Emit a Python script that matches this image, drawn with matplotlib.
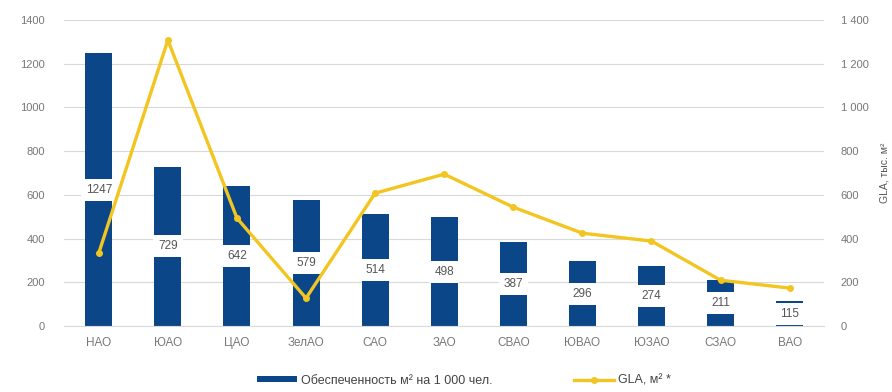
import matplotlib.pyplot as plt
import numpy as np

districts = ['НАО', 'ЮАО', 'ЦАО', 'ЗелАО', 'САО', 'ЗАО', 'СВАО', 'ЮВАО', 'ЮЗАО', 'СЗАО', 'ВАО']
supply = [1247, 729, 642, 579, 514, 498, 387, 296, 274, 211, 115]
gla = [334, 1308, 494, 128, 608, 695, 544, 425, 389, 210, 174]

left_ticks = [0, 200, 400, 600, 800, 1000, 1200, 1400]
right_tick_labels = ['0', '200', '400', '600', '800', '1 000', '1 200', '1 400']

BAR_COLOR = '#0b4788'
LINE_COLOR = '#f2c521'
TICK_COLOR = '#777777'

plt.rcParams['font.family'] = ['Liberation Sans', 'DejaVu Sans']

fig = plt.figure(figsize=(8.92, 3.92), dpi=100)
ax = fig.add_axes([0.072, 0.168, 0.852, 0.781])
x = np.arange(len(districts))

ax.set_axisbelow(True)
ax.grid(axis='y', color='#d9d9d9', linewidth=0.8)
bars = ax.bar(x, supply, width=0.39, color=BAR_COLOR, label='Обеспеченность м² на 1 000 чел.', zorder=2)

# подписи значений в середине столбцов
for xi, v in zip(x, supply):
    ax.text(xi, v / 2, str(v), ha='center', va='center', fontsize=8.5, color='#555555', zorder=5,
            bbox=dict(boxstyle='square,pad=0.42', facecolor='white', edgecolor='none'))

ax.set_xlim(-0.5, len(districts) - 0.5)
ax.set_ylim(0, 1400)
ax.set_yticks(left_ticks)
ax.set_xticks(x)
ax.set_xticklabels(districts)
ax.tick_params(axis='x', length=0, labelsize=8.5, colors=TICK_COLOR, pad=8)
ax.tick_params(axis='y', length=0, labelsize=8, colors=TICK_COLOR, pad=14)
for s in ax.spines.values():
    s.set_visible(False)
ax.spines['bottom'].set_visible(True)
ax.spines['bottom'].set_color('#d9d9d9')

ax2 = ax.twinx()
ax2.plot(x, gla, color=LINE_COLOR, linewidth=2.4, marker='o', markersize=4, label='GLA, м² *', zorder=4)
ax2.set_ylim(0, 1400)
ax2.set_yticks(left_ticks)
ax2.set_yticklabels(right_tick_labels)
ax2.tick_params(axis='y', length=0, labelsize=8, colors=TICK_COLOR, pad=12)
for s in ax2.spines.values():
    s.set_visible(False)
ax2.set_ylabel('GLA, тыс. м²', fontsize=7.5, color='#555555', labelpad=8)

h1, l1 = ax.get_legend_handles_labels()
h2, l2 = ax2.get_legend_handles_labels()
fig.legend(h1 + h2, l1 + l2, loc='lower center', bbox_to_anchor=(0.52, -0.015), ncol=2,
           frameon=False, fontsize=9, labelcolor='#444444', handlelength=3.2, handleheight=0.4,
           handletextpad=0.3, columnspacing=6.5)

fig.savefig('out.png', dpi=100)
